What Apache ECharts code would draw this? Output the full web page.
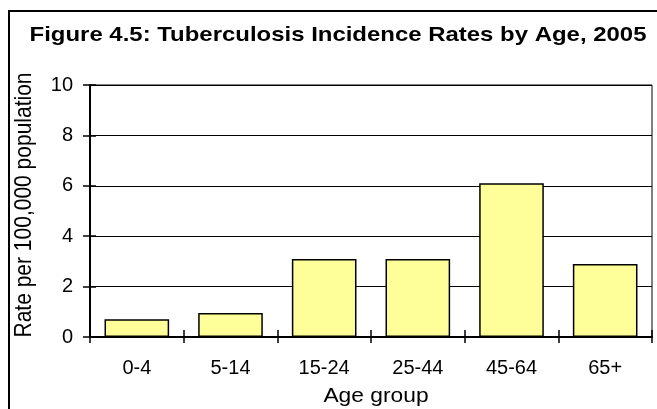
<!DOCTYPE html>
<html>
<head>
<meta charset="utf-8">
<script src="https://cdn.jsdelivr.net/npm/echarts@6/dist/echarts.min.js"></script>
<style>html,body{margin:0;padding:0;background:#fff;}#c{width:657px;height:409px;}</style>
</head>
<body>
<div id="c"></div>
<script>
const titleText = 'Figure 4.5: Tuberculosis Incidence Rates by Age, 2005';
const categories = ['0-4', '5-14', '15-24', '25-44', '45-64', '65+'];
const rates = [0.7, 0.95, 3.1, 3.1, 6.1, 2.9];
const yTicks = [0, 2, 4, 6, 8, 10];
const xName = 'Age group';
const yName = 'Rate per 100,000 population';

const font = 'Liberation Sans, Arial, sans-serif';
const chart = echarts.init(document.getElementById('c'), null, {renderer: 'canvas'});
const yMin = yTicks[0], yMax = yTicks[yTicks.length - 1], yStep = yTicks[1] - yTicks[0];
chart.setOption({
  animation: false,
  backgroundColor: '#fff',
  graphic: [{
    type: 'rect', shape: {x: 9, y: 11, width: 700, height: 450},
    style: {fill: 'none', stroke: '#000', lineWidth: 2}, z: 100
  }, {
    type: 'text', x: 338, y: 35.5, scaleX: 1.14,
    style: {text: titleText, fontFamily: font, fontWeight: 'bold', fontSize: 21, fill: '#000', align: 'center', verticalAlign: 'middle'}
  }, {
    type: 'text', x: 376, y: 396, scaleX: 1.14,
    style: {text: xName, fontFamily: font, fontSize: 20, fill: '#000', align: 'center', verticalAlign: 'middle'}
  }, {
    type: 'text', x: 25, y: 205, rotation: Math.PI / 2, scaleY: 1.1,
    style: {text: yName, fontFamily: font, fontSize: 21, fill: '#000', align: 'center', verticalAlign: 'middle'}
  }],
  grid: {left: 90, right: 5, top: 85, bottom: 72, show: true, borderColor: '#000', borderWidth: 1, backgroundColor: 'transparent'},
  xAxis: [{
    type: 'category', data: categories,
    axisLine: {lineStyle: {color: '#000', width: 2}},
    axisTick: {show: true, inside: false, length: 6, lineStyle: {color: '#000', width: 1.5}},
    axisLabel: {fontFamily: font, fontSize: 20, color: '#000', margin: 21},
    splitLine: {show: false}
  }, {
    type: 'category', data: categories, position: 'bottom',
    axisLine: {show: false},
    axisTick: {show: true, inside: true, length: 7, lineStyle: {color: '#000', width: 1.5}},
    axisLabel: {show: false}, splitLine: {show: false}
  }],
  yAxis: [{
    type: 'value', min: yMin, max: yMax, interval: yStep,
    axisLine: {show: true, lineStyle: {color: '#000', width: 2}},
    axisTick: {show: true, inside: false, length: 7, lineStyle: {color: '#000', width: 1.5}},
    axisLabel: {fontFamily: font, fontSize: 20, color: '#000', margin: 17},
    splitLine: {show: true, lineStyle: {color: '#000', width: 1}}
  }, {
    type: 'value', min: yMin, max: yMax, interval: yStep, position: 'left',
    axisLine: {show: false},
    axisTick: {show: true, inside: true, length: 6, lineStyle: {color: '#000', width: 1.5}},
    axisLabel: {show: false}, splitLine: {show: false}
  }],
  series: [{
    type: 'bar', data: rates, xAxisIndex: 0, yAxisIndex: 0,
    barCategoryGap: '31%',
    itemStyle: {color: '#FFFF99', borderColor: '#000', borderWidth: 1.5}
  }]
});
</script>
</body>
</html>
